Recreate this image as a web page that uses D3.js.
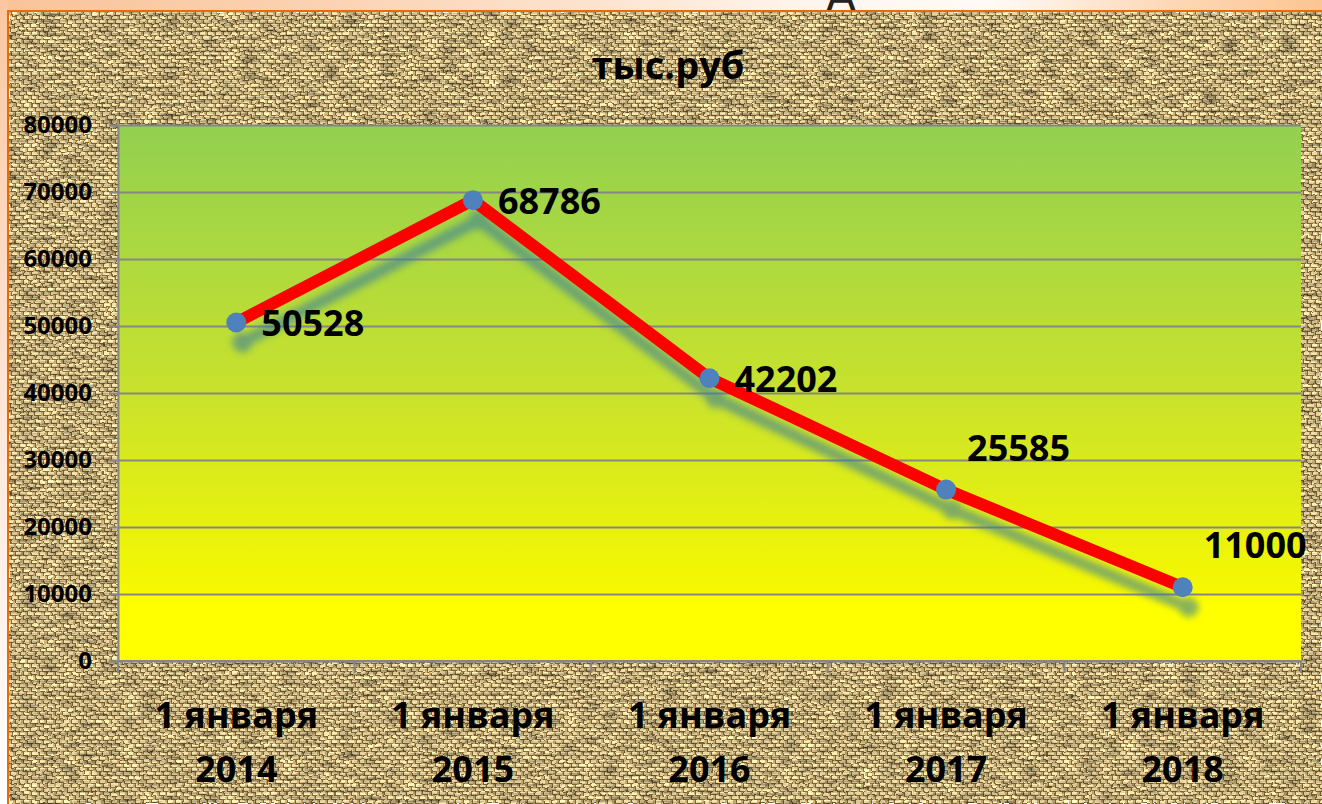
<!DOCTYPE html>
<html><head><meta charset="utf-8">
<script src="https://cdn.jsdelivr.net/npm/d3@7/dist/d3.min.js"></script>
<style>html,body{margin:0;padding:0;background:#fff;}svg{display:block;}</style>
</head><body>
<script>
const categories = [["1 января","2014"],["1 января","2015"],["1 января","2016"],["1 января","2017"],["1 января","2018"]];
const values = [50528, 68786, 42202, 25585, 11000];
const yTicks = [0,10000,20000,30000,40000,50000,60000,70000,80000];
const titleText = "тыс.руб";
const labelPlacement = ["right","right","right","above","above"];

const W = 1322, H = 804;
const m = {left:118, right:21, top:125, bottom:143};
const font = "'Open Sans', 'Noto Sans', sans-serif";

const svg = d3.select("body").append("svg").attr("width", W).attr("height", H);
const defs = svg.append("defs");

// top strip gradient
const tg = defs.append("linearGradient").attr("id","topg").attr("x1","0").attr("x2","1").attr("y1","0").attr("y2","0");
[[0,"#f9c39a"],[0.25,"#fbd3b3"],[0.45,"#fde3cf"],[0.62,"#fff6ef"],[0.75,"#fffaf6"],[0.88,"#fdd9b8"],[1,"#fcc593"]].forEach(d=>tg.append("stop").attr("offset",d[0]).attr("stop-color",d[1]));
const lg = defs.append("linearGradient").attr("id","leftg").attr("x1","0").attr("x2","0").attr("y1","0").attr("y2","1");
[[0,"#fbc7a0"],[0.5,"#fde6d6"],[1,"#ffffff"]].forEach(d=>lg.append("stop").attr("offset",d[0]).attr("stop-color",d[1]));

// weave pattern
const pat = defs.append("pattern").attr("id","weave").attr("patternUnits","userSpaceOnUse").attr("width",8).attr("height",8);
pat.append("rect").attr("width",8).attr("height",8).attr("fill","#76602f");
pat.append("rect").attr("x",0).attr("y",0).attr("width",5).attr("height",3).attr("fill","#e6d4a2");
pat.append("rect").attr("x",4).attr("y",4).attr("width",4).attr("height",3).attr("fill","#e2cf9c");
pat.append("rect").attr("x",0).attr("y",4).attr("width",1).attr("height",3).attr("fill","#e2cf9c");
pat.append("rect").attr("x",5).attr("y",0).attr("width",2).attr("height",4).attr("fill","#b99f6b");
pat.append("rect").attr("x",1).attr("y",4).attr("width",2).attr("height",4).attr("fill","#bda36f");

// burlap irregularity filter
const f = defs.append("filter").attr("id","burlap").attr("x",0).attr("y",0).attr("width",1).attr("height",1);
f.append("feTurbulence").attr("type","fractalNoise").attr("baseFrequency","0.12 0.09").attr("numOctaves",2).attr("seed",5).attr("result","t");
f.append("feDisplacementMap").attr("in","SourceGraphic").attr("in2","t").attr("scale",3.5).attr("xChannelSelector","R").attr("yChannelSelector","G").attr("result","d");
f.append("feTurbulence").attr("type","fractalNoise").attr("baseFrequency","0.05 0.3").attr("numOctaves",2).attr("seed",11).attr("result","n0");
f.append("feColorMatrix").attr("in","n0").attr("type","matrix")
  .attr("values","1 0 0 0 0  1 0 0 0 0  1 0 0 0 0  0 0 0 0 1").attr("result","n");
f.append("feComposite").attr("in","d").attr("in2","n").attr("operator","arithmetic")
  .attr("k1",1.95).attr("k2",0).attr("k3",0).attr("k4",0).attr("result","o");
f.append("feComposite").attr("in","o").attr("in2","SourceAlpha").attr("operator","in");

// background strips
svg.append("rect").attr("x",0).attr("y",0).attr("width",W).attr("height",11).attr("fill","url(#topg)");
svg.append("rect").attr("x",0).attr("y",0).attr("width",8).attr("height",H).attr("fill","url(#leftg)");
// fragment of a letter above the strip (cut off in the reference as well)
svg.append("clipPath").attr("id","topclip").append("rect").attr("x",0).attr("y",0).attr("width",W).attr("height",10);
svg.append("text").attr("clip-path","url(#topclip)").attr("x",841).attr("y",11)
  .attr("text-anchor","middle").attr("font-family","'DejaVu Sans'").attr("font-size",44).attr("fill","#222").text("А");
svg.append("rect").attr("x",9).attr("y",12).attr("width",W-9).attr("height",H-12).attr("fill","url(#weave)").attr("filter","url(#burlap)");
svg.append("line").attr("x1",8).attr("x2",W).attr("y1",11).attr("y2",11).attr("stroke","#e46c0a").attr("stroke-width",2);
svg.append("line").attr("x1",8).attr("x2",8).attr("y1",10).attr("y2",H).attr("stroke","#e46c0a").attr("stroke-width",2);

// title
svg.append("text").attr("x",668).attr("y",79).attr("text-anchor","middle")
  .attr("font-family",font).attr("font-weight",700).attr("font-size",38).attr("fill","#000").text(titleText);

const x = d3.scaleBand().domain(d3.range(categories.length)).range([m.left, W-m.right]).paddingInner(0).paddingOuter(0);
const y = d3.scaleLinear().domain([0, 80000]).range([H-m.bottom, m.top]);

// plot gradient
const pg = defs.append("linearGradient").attr("id","plotg").attr("x1","0").attr("x2","0").attr("y1","0").attr("y2","1");
[[0,"#92d050"],[0.5,"#c9e22c"],[0.87,"#f6f800"],[0.875,"#ffff00"],[1,"#ffff00"]].forEach(d=>pg.append("stop").attr("offset",d[0]).attr("stop-color",d[1]));
svg.append("rect").attr("x",m.left).attr("y",y(80000)).attr("width",W-m.right-m.left).attr("height",y(0)-y(80000)).attr("fill","url(#plotg)");

// gridlines
svg.append("g").attr("transform",`translate(${m.left},0)`)
  .call(d3.axisLeft(y).tickValues(yTicks).tickSize(-(W-m.right-m.left)).tickFormat(""))
  .call(g=>g.select(".domain").remove())
  .call(g=>g.selectAll("line").attr("stroke","#868686").attr("stroke-width",2));

// y axis
svg.append("g").attr("transform",`translate(${m.left},0)`)
  .call(d3.axisLeft(y).tickValues(yTicks).tickSize(9).tickPadding(17).tickFormat(d=>d))
  .call(g=>g.select(".domain").attr("stroke","#868686").attr("stroke-width",2))
  .call(g=>g.selectAll("line").attr("stroke","#868686").attr("stroke-width",2))
  .call(g=>g.selectAll("text").attr("font-family",font).attr("font-weight",700).attr("font-size",24).attr("fill","#000"));

// x axis line & ticks at band boundaries
const bounds = d3.range(categories.length+1).map(i => i < categories.length ? x(i) : x(categories.length-1)+x.bandwidth());
svg.append("line").attr("x1",m.left).attr("x2",W-m.right).attr("y1",y(0)).attr("y2",y(0)).attr("stroke","#868686").attr("stroke-width",2);
svg.append("g").selectAll("line").data(bounds).join("line")
  .attr("x1",d=>d).attr("x2",d=>d).attr("y1",y(0)).attr("y2",y(0)+12).attr("stroke","#868686").attr("stroke-width",2);

// category labels
const cl = svg.append("g").selectAll("text").data(categories).join("text")
  .attr("text-anchor","middle").attr("font-family",font).attr("font-weight",700).attr("font-size",36).attr("fill","#000");
cl.append("tspan").attr("x",(d,i)=>x(i)+x.bandwidth()/2).attr("y",y(0)+67).text(d=>d[0]);
cl.append("tspan").attr("x",(d,i)=>x(i)+x.bandwidth()/2).attr("y",y(0)+121).text(d=>d[1]);

// shadow filter
const sf = defs.append("filter").attr("id","shadow").attr("x","-10%").attr("y","-10%").attr("width","120%").attr("height","130%");
sf.append("feGaussianBlur").attr("stdDeviation",3.5);

const px = (d,i)=>x(i)+x.bandwidth()/2;
const line = d3.line().x((d,i)=>px(d,i)).y(d=>y(d));

// shadow
const sh = svg.append("g").attr("transform","translate(6,20)").attr("filter","url(#shadow)").attr("opacity",0.6);
sh.append("path").datum(values).attr("d",line).attr("fill","none").attr("stroke","#3a7f9a").attr("stroke-width",12).attr("stroke-linejoin","round");
sh.selectAll("circle").data(values).join("circle").attr("cx",px).attr("cy",d=>y(d)).attr("r",10).attr("fill","#3a7f9a");

svg.append("path").datum(values).attr("d",line).attr("fill","none").attr("stroke","#ff0000").attr("stroke-width",12).attr("stroke-linejoin","round");
svg.append("g").selectAll("circle").data(values).join("circle").attr("cx",px).attr("cy",d=>y(d)).attr("r",10).attr("fill","#4f81bd");

// data labels
svg.append("g").selectAll("text").data(values).join("text")
  .attr("x",(d,i)=>px(d,i)+(labelPlacement[i]==="right"?25:21))
  .attr("y",(d,i)=>y(d)+(labelPlacement[i]==="right"?14:-29))
  .attr("font-family",font).attr("font-weight",700).attr("font-size",36).attr("fill","#000")
  .text(d=>d);
</script>
</body></html>
